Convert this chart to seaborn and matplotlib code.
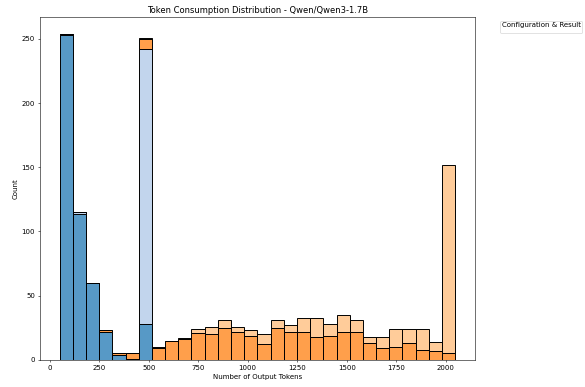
import numpy as np
import pandas as pd
import matplotlib
matplotlib.use('Agg')
import matplotlib.pyplot as plt
import seaborn as sns

#DATA - counts per histogram bin
token_min = 50
token_max = 2048
n_bins = 30

groups = ['Thinking / Incorrect', 'Thinking / Correct',
          'No-Thinking / Incorrect', 'No-Thinking / Correct']
group_colors = ['#ffbb78', '#ff7f0e', '#aec7e8', '#1f77b4']

no_think_correct = [253, 114, 60, 22, 4, 1, 28, 0, 0, 0,
                    0, 0, 0, 0, 0, 0, 0, 0, 0, 0,
                    0, 0, 0, 0, 0, 0, 0, 0, 0, 0]
no_think_incorrect = [1, 1, 0, 0, 0, 0, 214, 0, 0, 0,
                      0, 0, 0, 0, 0, 0, 0, 0, 0, 0,
                      0, 0, 0, 0, 0, 0, 0, 0, 0, 0]
think_correct = [0, 0, 0, 1, 1, 4, 8, 9, 15, 16,
                 21, 20, 25, 22, 19, 12, 25, 22, 22, 18,
                 19, 22, 22, 13, 9, 10, 13, 8, 7, 5]
think_incorrect = [0, 0, 0, 0, 0, 0, 1, 1, 0, 1,
                   3, 6, 6, 4, 4, 8, 6, 5, 11, 15,
                   9, 13, 9, 5, 9, 14, 11, 16, 7, 147]

#PROCESS DATA - one row per bin and group, weighted by count
edges = np.linspace(token_min, token_max, n_bins + 1)
centers = (edges[:-1] + edges[1:]) / 2
series = [think_incorrect, think_correct, no_think_incorrect, no_think_correct]
frames = []
for name, counts in zip(groups, series):
    frames.append(pd.DataFrame({'tokens': centers, 'count': counts, 'group': name}))
data = pd.concat(frames, ignore_index=True)

#PLOT
fig = plt.figure(figsize=(11.7, 7.74), dpi=50)
ax = fig.add_axes([0.068, 0.07, 0.744, 0.885])

sns.histplot(data=data, x='tokens', weights='count', hue='group',
             hue_order=groups, palette=dict(zip(groups, group_colors)),
             bins=n_bins, binrange=(token_min, token_max),
             multiple='stack', legend=False, linewidth=1.4, ax=ax)

ax.set_title('Token Consumption Distribution - Qwen/Qwen3-1.7B', fontsize=12)
ax.set_xlabel('Number of Output Tokens')
ax.set_ylabel('Count')

#empty legend box, only the title
ax.legend(handles=[], title='Configuration & Result', borderpad=0.2,
          bbox_to_anchor=(1.05, 1), loc='upper left')

fig.savefig('out.png', dpi=50)
